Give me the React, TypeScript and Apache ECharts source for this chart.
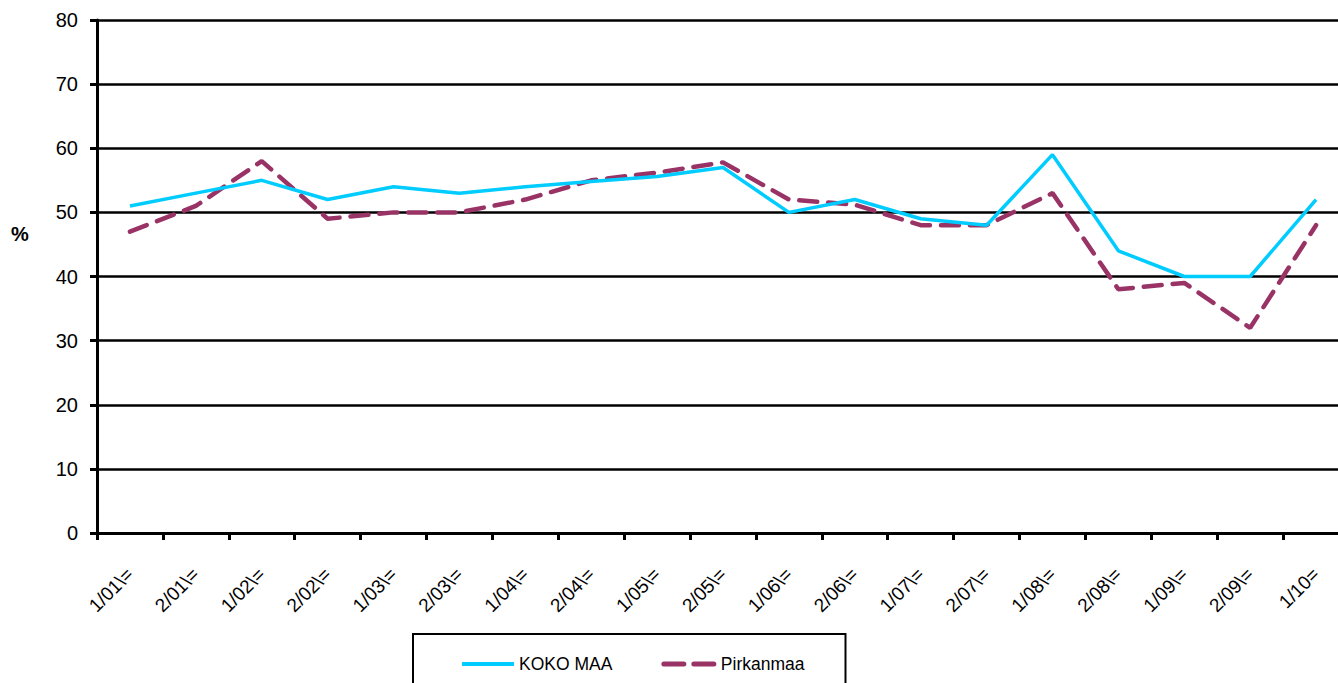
import React, { useEffect, useRef } from "react";
import * as echarts from "echarts";

const categories = [
  "1/01\\=", "2/01\\=", "1/02\\=", "2/02\\=", "1/03\\=", "2/03\\=", "1/04\\=", "2/04\\=",
  "1/05\\=", "2/05\\=", "1/06\\=", "2/06\\=", "1/07\\=", "2/07\\=", "1/08\\=", "2/08\\=",
  "1/09\\=", "2/09\\=", "1/10=",
];
const kokoMaa = [51, 53, 55, 52, 54, 53, 54, 54.8, 55.6, 57, 50, 52, 49, 48, 59, 44, 40, 40, 52];
const pirkanmaa = [47, 51, 58, 49, 50, 50, 52, 55, 56.2, 57.8, 52, 51.2, 48, 48, 53, 38, 39, 32, 48];
const yTicks = [0, 10, 20, 30, 40, 50, 60, 70, 80];

export default function App() {
  const ref = useRef<HTMLDivElement>(null);
  useEffect(() => {
    if (!ref.current) return;
    const chart = echarts.init(ref.current, null, { renderer: "svg" });
    const font = "'Liberation Sans', Arial, sans-serif";
    chart.setOption({
      animation: false,
      backgroundColor: "#ffffff",
      textStyle: { fontFamily: font },
      grid: { left: 97, right: 0, top: 20, bottom: 150, containLabel: false },
      graphic: [
        {
          type: "text",
          left: 11,
          top: 224,
          style: { text: "%", font: `bold 20px ${font}`, fill: "#000" },
        },
      ],
      legend: {
        left: 413,
        top: 634,
        orient: "horizontal",
        borderColor: "#000",
        borderWidth: 2,
        padding: [21, 41, 30, 47],
        itemWidth: 52,
        itemHeight: 14,
        itemGap: 49,
        itemStyle: { opacity: 0 },
        textStyle: { fontSize: 17.5, color: "#000", fontFamily: font },
        data: [
          { name: "KOKO MAA", lineStyle: { width: 4, color: "#00CCFF" } },
          { name: "Pirkanmaa", lineStyle: { width: 5, color: "#993366", type: [20, 10], cap: "round" } },
        ],
      },
      xAxis: {
        type: "category",
        data: categories,
        boundaryGap: true,
        axisLine: { lineStyle: { color: "#000", width: 3 } },
        axisTick: { show: true, alignWithLabel: false, length: 7, lineStyle: { color: "#000", width: 3 } },
        axisLabel: {
          rotate: 45,
          interval: 0,
          margin: 38,
          fontSize: 19,
          color: "#000",
          fontFamily: font,
        },
        splitLine: { show: false },
      },
      yAxis: {
        type: "value",
        min: 0,
        max: 80,
        interval: 10,
        axisLine: { show: true, lineStyle: { color: "#000", width: 3 } },
        axisTick: { show: true, length: 7, lineStyle: { color: "#000", width: 3 } },
        axisLabel: {
          fontSize: 20,
          color: "#000",
          fontFamily: font,
          margin: 19,
          formatter: (v: number) => (yTicks.includes(v) ? String(v) : ""),
        },
        splitLine: { show: true, lineStyle: { color: "#000", width: 2.5 } },
      },
      series: [
        {
          name: "KOKO MAA",
          type: "line",
          data: kokoMaa,
          symbol: "none",
          color: "#00CCFF",
          lineStyle: { color: "#00CCFF", width: 3.5 },
          itemStyle: { color: "#00CCFF" },
          z: 3,
        },
        {
          name: "Pirkanmaa",
          type: "line",
          data: pirkanmaa,
          symbol: "none",
          color: "#993366",
          lineStyle: { color: "#993366", width: 4.5, type: [18, 11], cap: "round" },
          itemStyle: { color: "#993366" },
          z: 2,
        },
      ],
    });
    return () => chart.dispose();
  }, []);
  return (
    <div style={{ position: "fixed", left: 0, top: 0, width: 1338, height: 683, overflow: "hidden", background: "#fff" }}>
      <div ref={ref} style={{ width: 1349, height: 683 }} />
    </div>
  );
}
